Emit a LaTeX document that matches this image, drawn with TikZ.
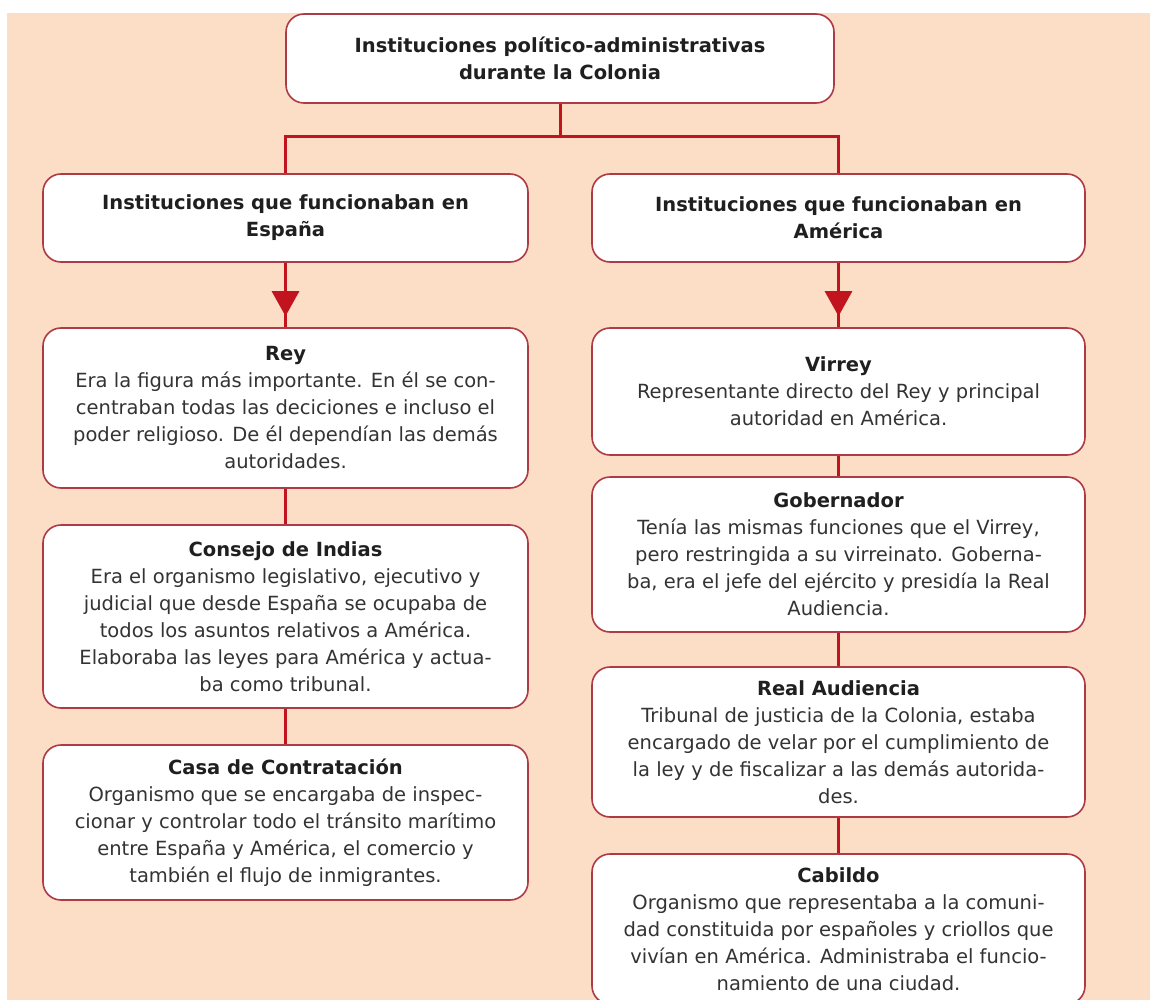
\documentclass[tikz,border=0pt]{standalone}
\usepackage{fontspec}
\setmainfont{DejaVu Sans}
\usetikzlibrary{arrows.meta,decorations.markings}
\definecolor{durazno}{HTML}{FCDDC6}
\definecolor{borde}{HTML}{AE3A46}
\definecolor{rojo}{HTML}{C2141E}
\definecolor{texto}{HTML}{333333}
\newcommand{\encab}[1]{{\bfseries\color{black!88}#1}}
\tikzset{
  caja/.style={draw=borde, line width=1.6pt, fill=white, rounded corners=18pt,
    align=center, inner sep=0pt, text=texto, font=\fontsize{19.5}{27}\selectfont},
  izq/.style={caja, minimum width=485pt},
  der/.style={caja, minimum width=493pt},
  linea/.style={draw=rojo, line width=3pt},
  flecha/.style={postaction={decorate}, decoration={markings,
    mark=at position -11pt with {\arrow[rojo]{Triangle[width=27pt,length=25pt]}}}}
}

\begin{document}
\begin{tikzpicture}[x=1pt,y=-1pt]
\useasboundingbox (0,0) rectangle (1150,1000);
\clip (0,0) rectangle (1150,1000);
\fill[durazno] (7,13) rectangle (1150,1000);

\node[caja, minimum width=548pt, minimum height=89pt] (instituciones) at (560,58.5)
  {\encab{Instituciones político-administrativas}\\\encab{durante la Colonia}};

\node[izq, minimum height=88pt] (espana) at (285.5,218)
  {\encab{Instituciones que funcionaban en}\\\encab{España}};
\node[der, minimum height=88pt] (america) at (838.5,218)
  {\encab{Instituciones que funcionaban en}\\\encab{América}};

\node[izq, minimum height=160pt] (rey) at (285.5,408)
  {\encab{Rey}\\Era la figura más importante. En él se con-\\centraban todas las deciciones e incluso el\\poder religioso. De él dependían las demás\\autoridades.};
\node[izq, minimum height=183pt] (consejo) at (285.5,616.5)
  {\encab{Consejo de Indias}\\Era el organismo legislativo, ejecutivo y\\judicial que desde España se ocupaba de\\todos los asuntos relativos a América.\\Elaboraba las leyes para América y actua-\\ba como tribunal.};
\node[izq, minimum height=155pt] (casa) at (285.5,822.5)
  {\encab{Casa de Contratación}\\Organismo que se encargaba de inspec-\\cionar y controlar todo el tránsito marítimo\\entre España y América, el comercio y\\también el flujo de inmigrantes.};

\node[der, minimum height=127pt] (virrey) at (838.5,391.5)
  {\encab{Virrey}\\Representante directo del Rey y principal\\autoridad en América.};
\node[der, minimum height=155pt] (gobernador) at (838.5,554.5)
  {\encab{Gobernador}\\Tenía las mismas funciones que el Virrey,\\pero restringida a su virreinato. Goberna-\\ba, era el jefe del ejército y presidía la Real\\Audiencia.};
\node[der, minimum height=150pt] (audiencia) at (838.5,742)
  {\encab{Real Audiencia}\\Tribunal de justicia de la Colonia, estaba\\encargado de velar por el cumplimiento de\\la ley y de fiscalizar a las demás autorida-\\des.};
\node[der, minimum height=150pt] (cabildo) at (838.5,929)
  {\encab{Cabildo}\\Organismo que representaba a la comuni-\\dad constituida por españoles y criollos que\\vivían en América. Administraba el funcio-\\namiento de una ciudad.};

\coordinate (cruce) at (560,137);
\draw[linea] (instituciones.south) -- (cruce);
\draw[linea] (espana.north) |- (cruce) -| (america.north);
\draw[linea,flecha] (espana) -- (rey);
\draw[linea,flecha] (america) -- (virrey);
\draw[linea] (rey) -- (consejo);
\draw[linea] (consejo) -- (casa);
\draw[linea] (virrey) -- (gobernador);
\draw[linea] (gobernador) -- (audiencia);
\draw[linea] (audiencia) -- (cabildo);
\end{tikzpicture}
\end{document}
